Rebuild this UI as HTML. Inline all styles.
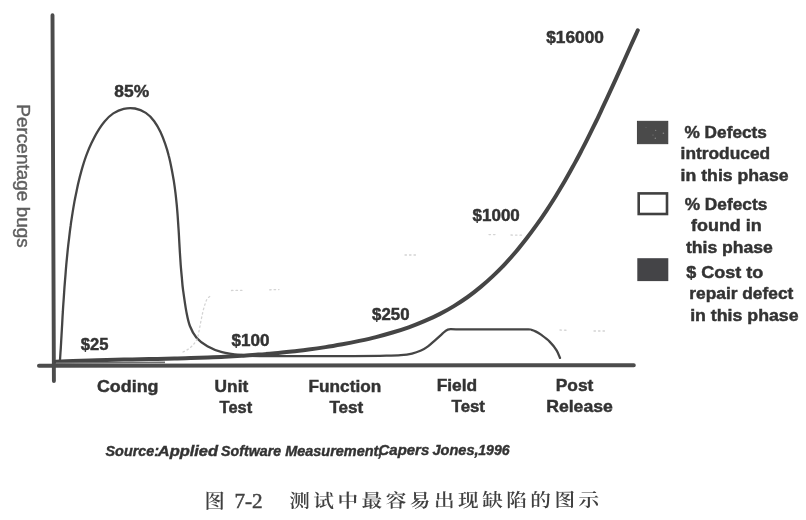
<!DOCTYPE html>
<html lang="zh">
<head>
<meta charset="utf-8">
<title>图 7-2 测试中最容易出现缺陷的图示</title>
<style>
  html, body { margin: 0; padding: 0; background: #fff; }
  body { width: 806px; height: 520px; overflow: hidden; position: relative; }
  svg { display: block; position: absolute; left: 0; top: 0; }
  .b { font-family: "Liberation Sans", sans-serif; font-weight: bold; font-size: 16.5px; fill: #333; stroke: #333; stroke-width: 0.45px; }
  .x { font-family: "Liberation Sans", sans-serif; font-weight: bold; font-size: 17px; fill: #333; stroke: #333; stroke-width: 0.45px; }
  .v { font-family: "Liberation Sans", sans-serif; font-weight: bold; font-size: 16.5px; fill: #333; stroke: #333; stroke-width: 0.45px; }
  .yl { font-family: "Liberation Sans", sans-serif; font-size: 17.6px; fill: #5e5e5e; stroke: #5e5e5e; stroke-width: 0.4px; }
  .src { font-family: "Liberation Sans", sans-serif; font-weight: bold; font-style: italic; font-size: 14px; fill: #333; stroke: #333; stroke-width: 0.4px; }
  .cap { font-family: "Liberation Serif", "Noto Serif CJK SC", serif; font-size: 18.8px; fill: #404040; font-weight: 600; }
</style>
</head>
<body>
<svg width="806" height="520" viewBox="0 0 806 520">
  <rect x="0" y="0" width="806" height="520" fill="#ffffff"/>
  <g id="scan" style="filter: blur(0.45px)">

  <!-- axes -->
  <g id="axes" stroke="#4c4c4c" stroke-linecap="round" fill="none">
    <line x1="52.5" y1="15.2" x2="53.9" y2="381" stroke-width="3.9"/>
    <line x1="39" y1="365.8" x2="633.8" y2="365.2" stroke-width="4"/>
  </g>

  <!-- % defects introduced (bell) + found curve (thin) -->
  <path id="thin" d="M60.0 360.0 C60.1 358.0 60.5 351.9 60.8 347.8 C61.0 343.7 61.3 339.7 61.5 335.6 C61.7 331.5 62.0 327.5 62.2 323.4 C62.4 319.3 62.6 315.3 62.9 311.2 C63.1 307.1 63.4 303.1 63.7 299.0 C64.0 294.9 64.2 290.9 64.5 286.8 C64.8 282.7 65.2 278.7 65.5 274.6 C65.8 270.5 66.1 266.5 66.5 262.4 C66.9 258.3 67.3 254.2 67.7 250.2 C68.1 246.1 68.6 242.1 69.1 238.1 C69.6 234.1 70.0 230.0 70.6 226.0 C71.1 222.0 71.8 217.9 72.4 213.9 C73.0 209.9 73.7 205.9 74.4 201.9 C75.1 197.9 76.0 193.9 76.8 189.9 C77.6 185.9 78.5 182.0 79.5 178.1 C80.5 174.2 81.5 170.2 82.7 166.3 C83.9 162.4 85.1 158.5 86.6 154.6 C88.1 150.7 89.7 146.9 91.5 143.1 C93.3 139.3 95.2 135.4 97.4 131.8 C99.6 128.2 101.9 124.6 104.6 121.5 C107.2 118.4 110.1 115.5 113.3 113.4 C116.5 111.3 120.1 109.6 123.7 108.8 C127.3 108.0 131.4 107.8 135.1 108.5 C138.8 109.2 142.6 110.8 145.8 112.9 C149.0 115.0 151.8 118.0 154.2 121.2 C156.6 124.4 158.7 128.2 160.5 132.0 C162.3 135.8 163.8 139.9 165.2 143.9 C166.6 147.9 167.8 151.9 168.8 156.0 C169.9 160.1 170.7 164.2 171.5 168.2 C172.3 172.2 173.0 176.2 173.7 180.2 C174.3 184.2 174.9 188.3 175.4 192.3 C175.9 196.3 176.3 200.3 176.7 204.3 C177.1 208.3 177.4 212.3 177.7 216.3 C178.0 220.3 178.2 224.4 178.5 228.4 C178.8 232.4 179.0 236.4 179.2 240.5 C179.4 244.6 179.7 248.6 179.9 252.7 C180.2 256.8 180.4 260.8 180.7 264.9 C181.0 269.0 181.4 273.1 181.8 277.2 C182.2 281.3 182.2 283.8 183.0 289.5 C183.8 295.2 185.2 305.3 186.3 311.4 C187.5 317.5 188.2 321.6 189.9 326.0 C191.6 330.4 193.6 334.3 196.5 337.7 C199.4 341.1 203.2 343.8 207.4 346.2 C211.7 348.6 216.5 350.7 222.0 352.2 C227.5 353.7 234.0 354.4 240.3 355.0 C246.6 355.6 250.1 355.8 260.0 356.0 C269.9 356.2 286.5 356.2 300.0 356.2 C313.5 356.2 327.7 356.2 341.0 356.1 C354.3 356.0 370.0 356.0 380.0 355.8 C390.0 355.6 395.5 355.6 400.8 355.2 C406.1 354.8 408.6 354.4 412.0 353.6 C415.4 352.8 418.3 351.7 421.0 350.5 C423.7 349.3 425.7 348.1 428.0 346.4 C430.3 344.7 432.7 342.4 435.0 340.4 C437.3 338.4 439.6 336.1 441.7 334.3 C443.8 332.5 445.4 330.4 447.8 329.6 C450.2 328.8 449.0 329.3 456.0 329.3 C463.0 329.3 478.3 329.4 490.0 329.4 C501.7 329.4 519.1 329.3 526.0 329.4 C532.9 329.5 529.8 329.4 531.5 329.8 C533.2 330.2 534.4 330.8 536.0 331.6 C537.6 332.4 538.7 333.0 541.0 334.7 C543.3 336.4 547.0 339.0 549.6 341.6 C552.2 344.2 554.9 347.6 556.6 350.3 C558.3 353.0 559.4 356.6 560.0 357.9" stroke="#454545" stroke-width="2.3" fill="none" stroke-linecap="round" stroke-linejoin="round"/>

  <!-- $ cost curve (thick) -->
  <path id="cost" d="M55.9 361.7 C58.7 361.6 67.2 361.2 72.9 361.0 C78.6 360.8 84.2 360.6 89.9 360.4 C95.6 360.2 101.2 360.1 106.9 360.0 C112.6 359.9 118.2 359.7 123.8 359.6 C129.4 359.5 135.0 359.3 140.6 359.2 C146.2 359.1 151.9 359.0 157.5 358.9 C163.1 358.8 168.7 358.6 174.3 358.5 C179.9 358.4 185.4 358.2 191.0 358.0 C196.6 357.8 202.2 357.6 207.8 357.4 C213.4 357.2 219.0 357.0 224.6 356.7 C230.2 356.4 235.8 356.1 241.4 355.8 C247.0 355.5 252.6 355.0 258.2 354.6 C263.8 354.2 269.4 353.7 275.0 353.2 C280.6 352.7 286.2 352.1 291.8 351.5 C297.4 350.9 303.0 350.2 308.6 349.5 C314.2 348.8 319.9 348.0 325.5 347.1 C331.1 346.2 336.8 345.2 342.4 344.2 C348.0 343.2 353.7 342.1 359.3 340.9 C364.9 339.7 370.5 338.5 376.0 337.1 C381.5 335.7 387.1 334.1 392.5 332.5 C397.9 330.9 403.4 329.2 408.7 327.3 C414.0 325.4 419.2 323.3 424.3 321.1 C429.4 318.9 434.6 316.6 439.5 314.1 C444.4 311.6 449.2 309.0 453.9 306.1 C458.6 303.2 463.2 300.2 467.7 297.0 C472.2 293.8 476.5 290.4 480.7 286.9 C484.9 283.4 489.1 279.7 493.1 275.9 C497.1 272.1 501.1 268.2 504.9 264.1 C508.7 260.0 512.5 255.8 516.1 251.5 C519.7 247.2 523.2 242.8 526.7 238.3 C530.2 233.8 533.5 229.3 536.8 224.7 C540.1 220.1 543.4 215.3 546.5 210.6 C549.6 205.8 552.7 201.0 555.7 196.2 C558.7 191.3 561.6 186.4 564.5 181.5 C567.4 176.6 570.1 171.6 572.9 166.6 C575.6 161.6 578.4 156.6 581.0 151.5 C583.6 146.4 586.2 141.4 588.7 136.3 C591.2 131.2 593.8 126.1 596.3 121.0 C598.8 115.9 601.1 110.8 603.5 105.7 C605.9 100.6 608.2 95.5 610.6 90.4 C613.0 85.3 615.3 80.2 617.6 75.1 C619.9 70.0 622.1 65.0 624.4 60.0 C626.6 55.0 628.9 50.0 631.1 45.0 C633.3 40.0 636.7 32.8 637.8 30.3" stroke="#454545" stroke-width="4" fill="none" stroke-linecap="round" stroke-linejoin="round"/>

  <!-- faint scan remnants of erased curve -->
  <g id="faint" stroke="#d4d4d4" stroke-width="1.3" fill="none" stroke-dasharray="1.5 3" stroke-linecap="round">
    <path d="M183 352 C190 349 195 344 197.5 338 C200 328 202 312 205.5 302.8 C207 298 209 296.5 212 295.5"/>
    <path d="M231.5 290.5 L242 290.3 M269.6 289.8 L279 289.6"/>
    <path d="M489 234.6 L495 234.6 M511 235 L523 235.2 M405 255 L418 255"/>
    <path d="M560 330 L567 330.3 M594 331 L606 331"/>
  </g>

  <line x1="56" y1="363.1" x2="165" y2="362.4" stroke="#707070" stroke-width="1.6"/>

  <!-- legend boxes -->
  <rect x="637.4" y="121.3" width="30.4" height="22.4" fill="#4a4a4a" stroke="#3c3c3c" stroke-width="0.9"/>
  <g fill="#8a8a8a"><circle cx="663.4" cy="133.2" r="0.8"/><circle cx="655.7" cy="130.4" r="0.6"/><circle cx="655.3" cy="138.2" r="0.7"/><circle cx="653" cy="135.1" r="0.5"/><circle cx="646" cy="127.5" r="0.4"/></g>
  <rect x="638.7" y="193.4" width="28.3" height="20.6" fill="#fff" stroke="#404040" stroke-width="2.6"/>
  <rect x="637.3" y="258.2" width="31" height="22.9" fill="#444447"/>

  <!-- legend text -->
  <g class="b">
    <text x="684.5" y="138.4" textLength="82.4" lengthAdjust="spacingAndGlyphs">% Defects</text>
    <text x="680.6" y="159.1" textLength="89.6" lengthAdjust="spacingAndGlyphs">introduced</text>
    <text x="680.6" y="181.4" textLength="108" lengthAdjust="spacingAndGlyphs">in this phase</text>
    <text x="684.7" y="209.9" textLength="82.6" lengthAdjust="spacingAndGlyphs">% Defects</text>
    <text x="691.1" y="230.8" textLength="70.6" lengthAdjust="spacingAndGlyphs">found in</text>
    <text x="685.9" y="252.9" textLength="87" lengthAdjust="spacingAndGlyphs">this phase</text>
    <text x="686.2" y="277.9" textLength="77" lengthAdjust="spacingAndGlyphs">$ Cost to</text>
    <text x="689.3" y="298.8" textLength="104" lengthAdjust="spacingAndGlyphs">repair defect</text>
    <text x="690.2" y="320.9" textLength="108.4" lengthAdjust="spacingAndGlyphs">in this phase</text>
  </g>

  <!-- value labels -->
  <g class="v">
    <text x="114.3" y="97" textLength="34.8" lengthAdjust="spacingAndGlyphs">85%</text>
    <text x="80.8" y="350" textLength="27.7" lengthAdjust="spacingAndGlyphs">$25</text>
    <text x="231.6" y="345.8" textLength="38" lengthAdjust="spacingAndGlyphs">$100</text>
    <text x="372.1" y="320" textLength="37.4" lengthAdjust="spacingAndGlyphs">$250</text>
    <text x="472.5" y="221.2" textLength="47.3" lengthAdjust="spacingAndGlyphs">$1000</text>
    <text x="546.2" y="43" textLength="57.7" lengthAdjust="spacingAndGlyphs">$16000</text>
  </g>

  <!-- x axis labels -->
  <g class="x">
    <text x="96.9" y="391.6" textLength="61.6" lengthAdjust="spacingAndGlyphs">Coding</text>
    <text x="214.6" y="392" textLength="33.6" lengthAdjust="spacingAndGlyphs">Unit</text>
    <text x="219.6" y="412.6" textLength="32.6" lengthAdjust="spacingAndGlyphs">Test</text>
    <text x="308.6" y="392" textLength="72.6" lengthAdjust="spacingAndGlyphs">Function</text>
    <text x="329.4" y="412.6" textLength="33.9" lengthAdjust="spacingAndGlyphs">Test</text>
    <text x="436.7" y="391" textLength="40.5" lengthAdjust="spacingAndGlyphs">Field</text>
    <text x="451.6" y="412.2" textLength="33.4" lengthAdjust="spacingAndGlyphs">Test</text>
    <text x="555.8" y="391" textLength="37.6" lengthAdjust="spacingAndGlyphs">Post</text>
    <text x="546.2" y="412.2" textLength="66.6" lengthAdjust="spacingAndGlyphs">Release</text>
  </g>

  <!-- y axis label -->
  <text class="yl" transform="translate(16.8 104.3) rotate(90)" textLength="143.5" lengthAdjust="spacingAndGlyphs">Percentage bugs</text>

  <!-- source -->
  <g class="src">
    <text x="105.5" y="456" textLength="53.6" lengthAdjust="spacingAndGlyphs">Source:</text>
    <text x="157.8" y="456" textLength="60.2" lengthAdjust="spacingAndGlyphs">Applied</text>
    <text x="221.1" y="456" textLength="60.0" lengthAdjust="spacingAndGlyphs">Software</text>
    <text x="285.2" y="455.8" textLength="97.2" lengthAdjust="spacingAndGlyphs">Measurement,</text>
    <text x="378.6" y="455.2" textLength="50.6" lengthAdjust="spacingAndGlyphs">Capers</text>
    <text x="432.4" y="454.9" textLength="46.2" lengthAdjust="spacingAndGlyphs">Jones,</text>
    <text x="478.2" y="454.9" textLength="31.4" lengthAdjust="spacingAndGlyphs">1996</text>
  </g>

  <!-- caption -->
  <g class="cap">
    <text transform="translate(204.6 507.5) scale(1.08 1)" x="0" y="0">图</text>
    <text x="234.5" y="508.1" textLength="28.2" lengthAdjust="spacingAndGlyphs" style="font-size:20px;font-weight:400;stroke:#444;stroke-width:0.5px">7-2</text>
    <text transform="translate(289.2 507.6) rotate(-0.22) scale(1.1 1)" x="0" y="0" textLength="281.9" lengthAdjust="spacing">测试中最容易出现缺陷的图示</text>
  </g>
  </g>
</svg>
</body>
</html>
